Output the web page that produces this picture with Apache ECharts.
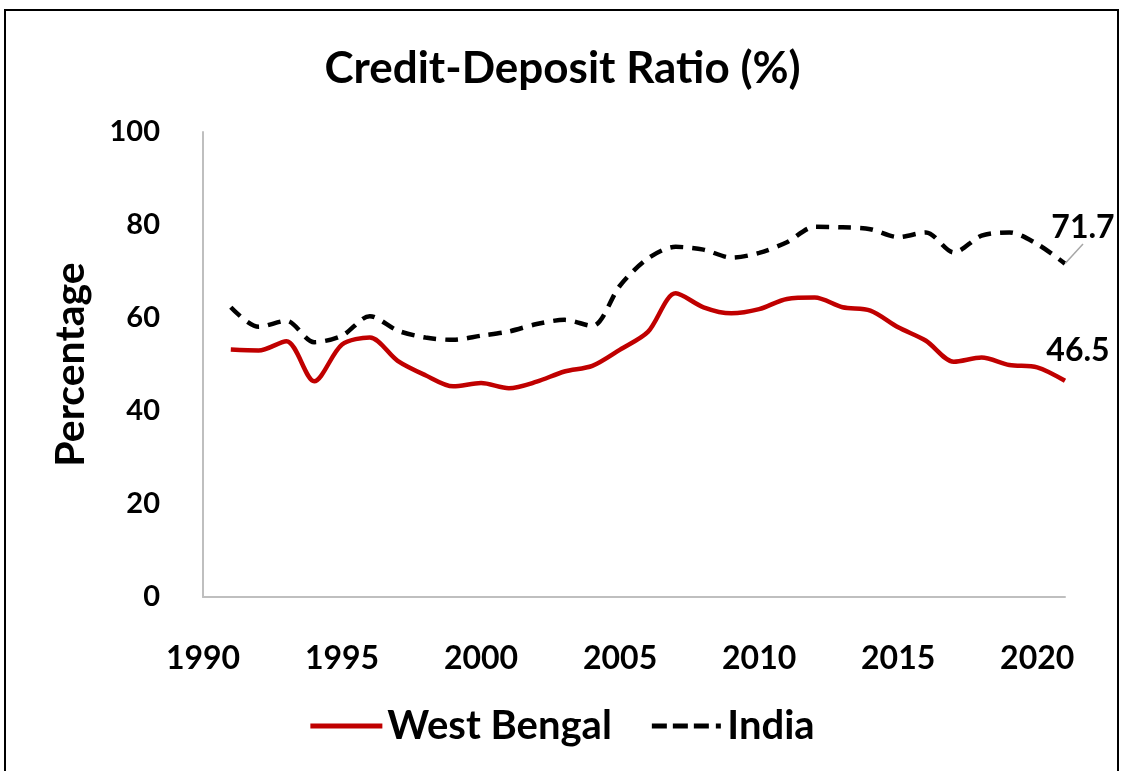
<!DOCTYPE html>
<html>
<head>
<meta charset="utf-8">
<script src="https://cdn.jsdelivr.net/npm/echarts@6/dist/echarts.min.js"></script>
<style>
  html, body { margin: 0; padding: 0; background: #fff; }
  #chart { width: 1125px; height: 771px; }
</style>
</head>
<body>
<div id="chart"></div>
<script>
// years 1991 - 2021
const years = [1991, 1992, 1993, 1994, 1995, 1996, 1997, 1998, 1999, 2000,
  2001, 2002, 2003, 2004, 2005, 2006, 2007, 2008, 2009, 2010,
  2011, 2012, 2013, 2014, 2015, 2016, 2017, 2018, 2019, 2020, 2021]
const westBengal = [53.2, 53.0, 55.0, 46.4, 54.3, 55.8, 50.8, 47.7, 45.3, 46.0,
  44.9, 46.3, 48.5, 49.7, 53.2, 57.0, 65.3, 62.3, 61.0, 61.9,
  64.1, 64.4, 62.3, 61.6, 58.0, 55.1, 50.6, 51.5, 49.9, 49.4, 46.5]
const india = [62.3, 58.1, 59.4, 54.8, 56.2, 60.4, 57.3, 55.8, 55.3, 56.2,
  57.1, 58.7, 59.6, 58.3, 67.0, 72.8, 75.3, 74.7, 73.0, 74.0,
  76.3, 79.6, 79.5, 79.1, 77.4, 78.4, 74.1, 77.7, 78.4, 75.9, 71.7]

const FONT = 'Lato'
const chart = echarts.init(document.getElementById('chart'))

// only the last point gets a (transparent) symbol so its value label can show
function withEndLabel (vals, lineOpt) {
  const pts = vals.map((v, i) => [years[i], v])
  const last = pts.length - 1
  pts[last] = {
    value: pts[last],
    symbol: 'circle',
    symbolSize: 1,
    itemStyle: { color: 'rgba(0,0,0,0)' },
    label: {
      show: true,
      position: 'top',
      formatter: p => p.value[1],
      fontFamily: FONT,
      fontWeight: 'bold',
      fontSize: 32,
      color: '#000'
    },
    labelLine: lineOpt
  }
  return pts
}

chart.setOption({
  animation: false,
  title: {
    text: 'Credit-Deposit Ratio (%)',
    left: 'center',
    top: 42,
    textStyle: {
      fontFamily: FONT,
      fontWeight: 'bold',
      fontSize: 44,
      color: '#000'
    }
  },
  graphic: [{
    type: 'rect',
    shape: { x: 5, y: 10, width: 1113, height: 790 },
    style: { fill: 'none', stroke: '#000', lineWidth: 2 }
  }],
  legend: {
    bottom: 20,
    left: 'center',
    itemWidth: 72,
    itemHeight: 5,
    itemGap: 40,
    textStyle: {
      fontFamily: FONT,
      fontWeight: 'bold',
      fontSize: 40,
      color: '#000'
    },
    data: [
      { name: 'West Bengal', icon: 'path://M0,0h72v5h-72z', itemStyle: { color: '#c00000' } },
      { name: 'India', icon: 'path://M0,0h15v5h-15z M21,0h15v5h-15z M42,0h15v5h-15z M64,0h5v5h-5z', itemStyle: { color: '#000' } }
    ]
  },
  grid: {
    left: 203,
    right: 60,
    top: 132,
    bottom: 174
  },
  xAxis: {
    type: 'value',
    min: 1990,
    max: 2021,
    interval: 5,
    axisLine: { show: true, lineStyle: { color: '#bfbfbf', width: 2 } },
    axisTick: { show: false },
    splitLine: { show: false },
    axisLabel: {
      showMaxLabel: false,
      margin: 46,
      formatter: v => String(v),
      fontFamily: FONT,
      fontWeight: 'bold',
      fontSize: 32,
      color: '#000'
    }
  },
  yAxis: {
    type: 'value',
    min: 0,
    max: 100,
    interval: 20,
    name: 'Percentage',
    nameLocation: 'middle',
    nameGap: 112,
    nameTextStyle: {
      fontFamily: FONT,
      fontWeight: 'bold',
      fontSize: 41,
      color: '#000'
    },
    axisLine: { show: true, lineStyle: { color: '#bfbfbf', width: 2 } },
    axisTick: { show: false },
    splitLine: { show: false },
    axisLabel: {
      margin: 43,
      fontFamily: FONT,
      fontWeight: 'bold',
      fontSize: 29,
      color: '#000'
    }
  },
  series: [
    {
      name: 'West Bengal',
      type: 'line',
      smooth: 0.3,
      symbol: 'none',
      lineStyle: { color: '#c00000', width: 4.5 },
      itemStyle: { color: '#c00000' },
      data: withEndLabel(westBengal, { show: false })
    },
    {
      name: 'India',
      type: 'line',
      smooth: 0.3,
      symbol: 'none',
      lineStyle: { color: '#000', width: 4.5, type: [13, 9] },
      itemStyle: { color: '#000' },
      data: withEndLabel(india, { show: true, length2: 0, lineStyle: { color: '#a6a6a6', width: 1.5 } })
    }
  ],
  labelLayout: function (params) {
    if (params.seriesIndex === 1) {
      return { dx: 18, dy: -14 }
    }
    return { dx: 13, dy: -9 }
  }
})
</script>
</body>
</html>
